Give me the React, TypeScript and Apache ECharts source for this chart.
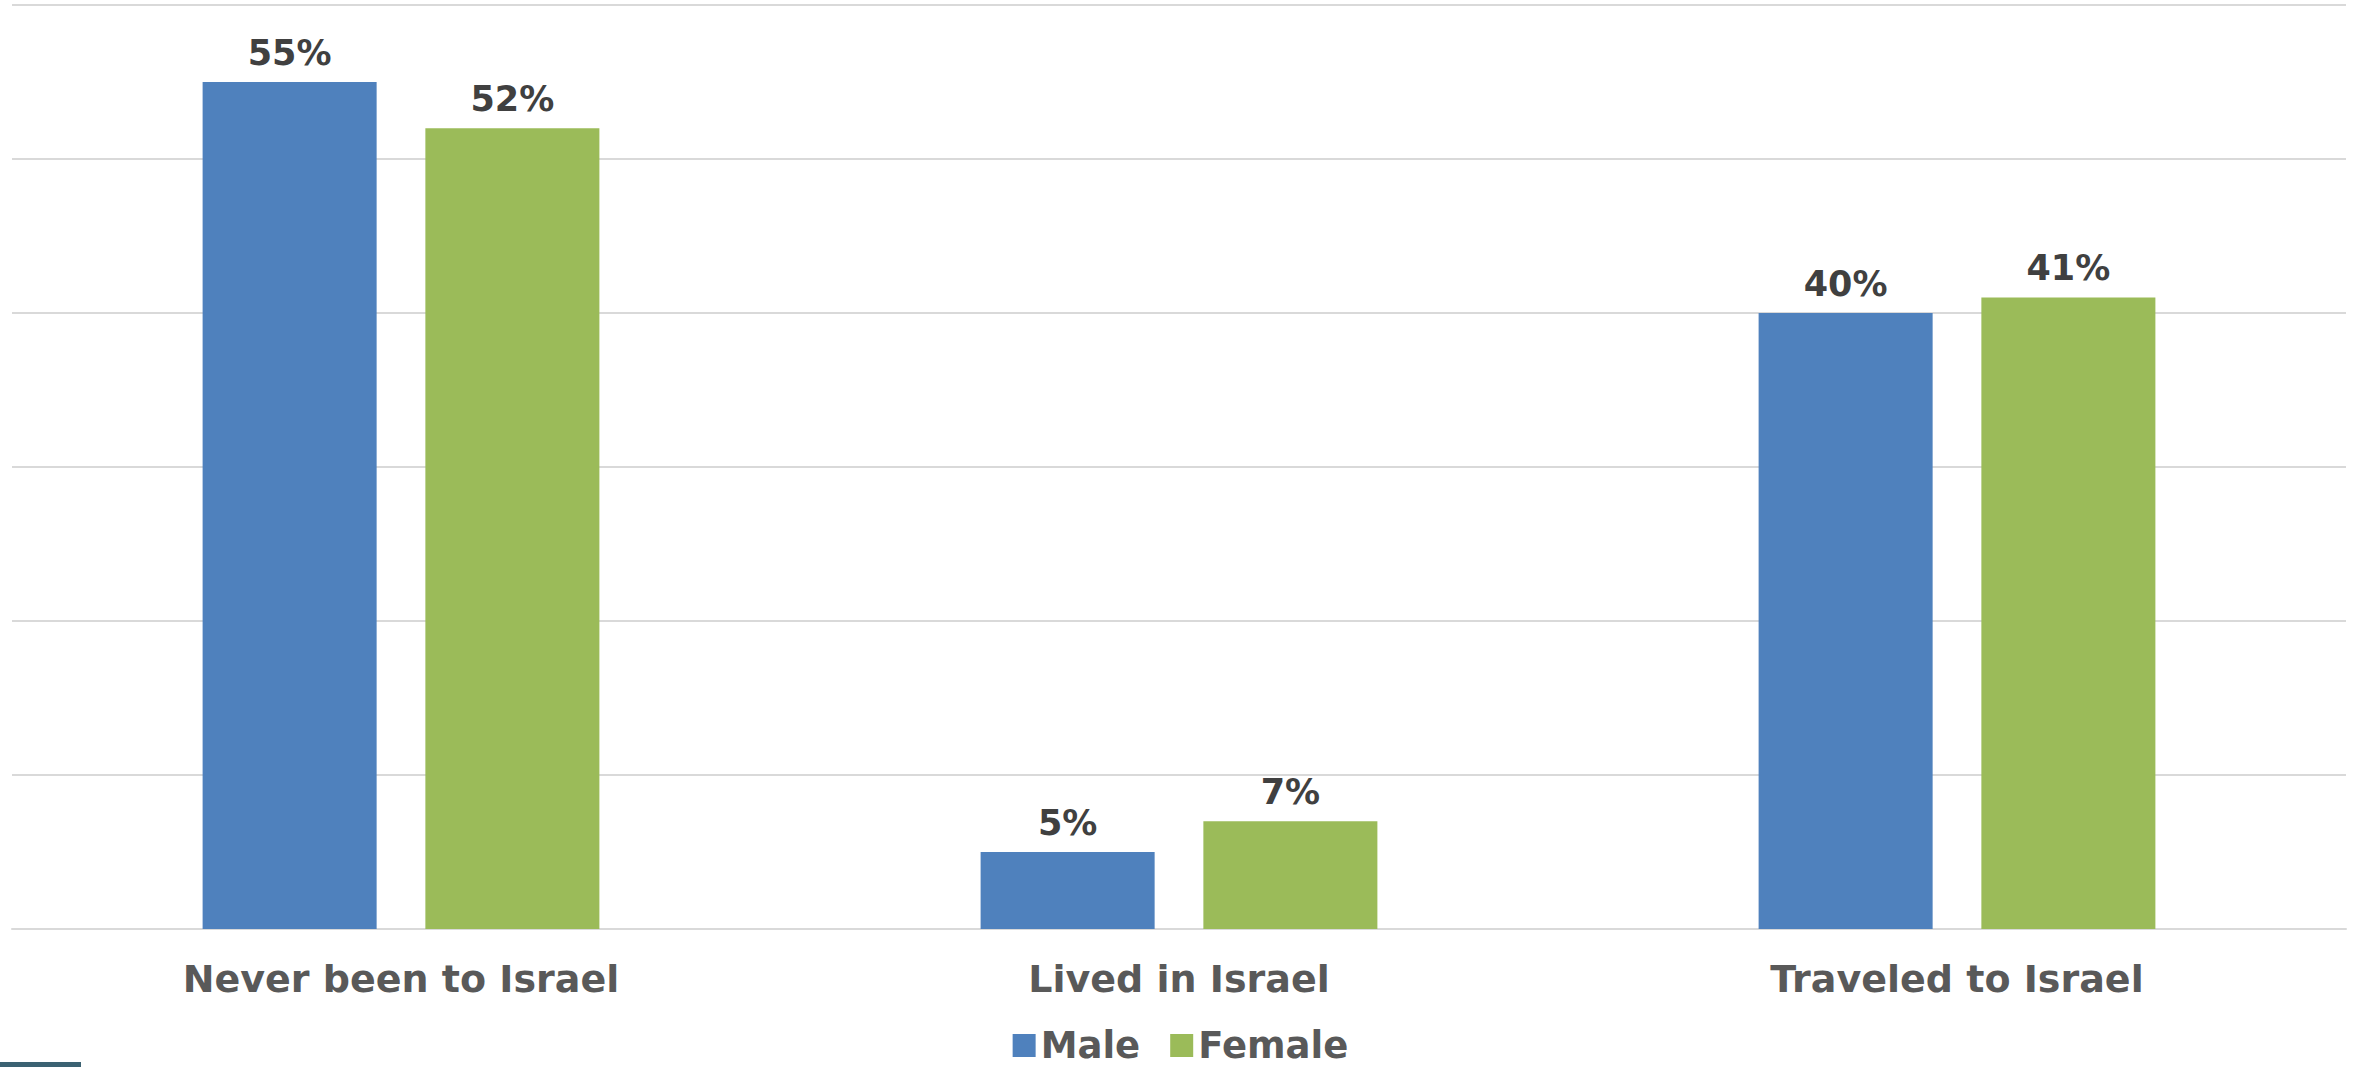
import React, { useEffect, useRef } from "react";
import * as echarts from "echarts";

const categories = ["Never been to Israel", "Lived in Israel", "Traveled to Israel"];
const maleValues = [55, 5, 40];
const femaleValues = [52, 7, 41];
const seriesNames = ["Male", "Female"];

const FONT = "'DejaVu Sans', Verdana, sans-serif";

export default function App() {
  const ref = useRef<HTMLDivElement>(null);
  useEffect(() => {
    document.body.style.margin = "0";
    const chart = echarts.init(ref.current!, null, { renderer: "svg" });
    const labelCfg = {
      show: true,
      position: "top",
      distance: 12,
      formatter: "{c}%",
      color: "#404040",
      fontFamily: FONT,
      fontWeight: "bold",
      fontSize: 35,
    };
    chart.setOption({
      animation: false,
      backgroundColor: "#ffffff",
      grid: { left: 12, right: 15, top: 5, bottom: 138, containLabel: false },
      legend: {
        data: seriesNames,
        left: "center",
        top: 1022,
        icon: "rect",
        itemWidth: 23,
        itemHeight: 23,
        itemGap: 30,
        textStyle: { color: "#595959", fontFamily: FONT, fontWeight: "bold", fontSize: 37 },
      },
      xAxis: {
        type: "category",
        data: categories,
        axisLine: { show: true, lineStyle: { color: "#d9d9d9", width: 2 } },
        axisTick: { show: false },
        axisLabel: {
          color: "#595959",
          fontFamily: FONT,
          fontWeight: "bold",
          fontSize: 38,
          margin: 31,
          interval: 0,
        },
      },
      yAxis: {
        type: "value",
        min: 0,
        max: 60,
        interval: 10,
        axisLabel: { show: false },
        axisLine: { show: false },
        axisTick: { show: false },
        splitLine: { lineStyle: { color: "#d9d9d9", width: 2 } },
      },
      series: [
        {
          name: seriesNames[0],
          type: "bar",
          data: maleValues,
          itemStyle: { color: "#4f81bd" },
          barGap: "28%",
          barCategoryGap: "49%",
          label: labelCfg,
        },
        {
          name: seriesNames[1],
          type: "bar",
          data: femaleValues,
          itemStyle: { color: "#9bbb59" },
          barGap: "28%",
          barCategoryGap: "49%",
          label: labelCfg,
        },
      ],
      graphic: [
        {
          type: "rect",
          left: 0,
          top: 1062,
          shape: { width: 81, height: 5 },
          style: { fill: "#3b6272" },
          silent: true,
        },
      ],
    });
    return () => chart.dispose();
  }, []);
  return (
    <div
      ref={ref}
      style={{ position: "absolute", left: 0, top: 0, width: 2361, height: 1067 }}
    />
  );
}
